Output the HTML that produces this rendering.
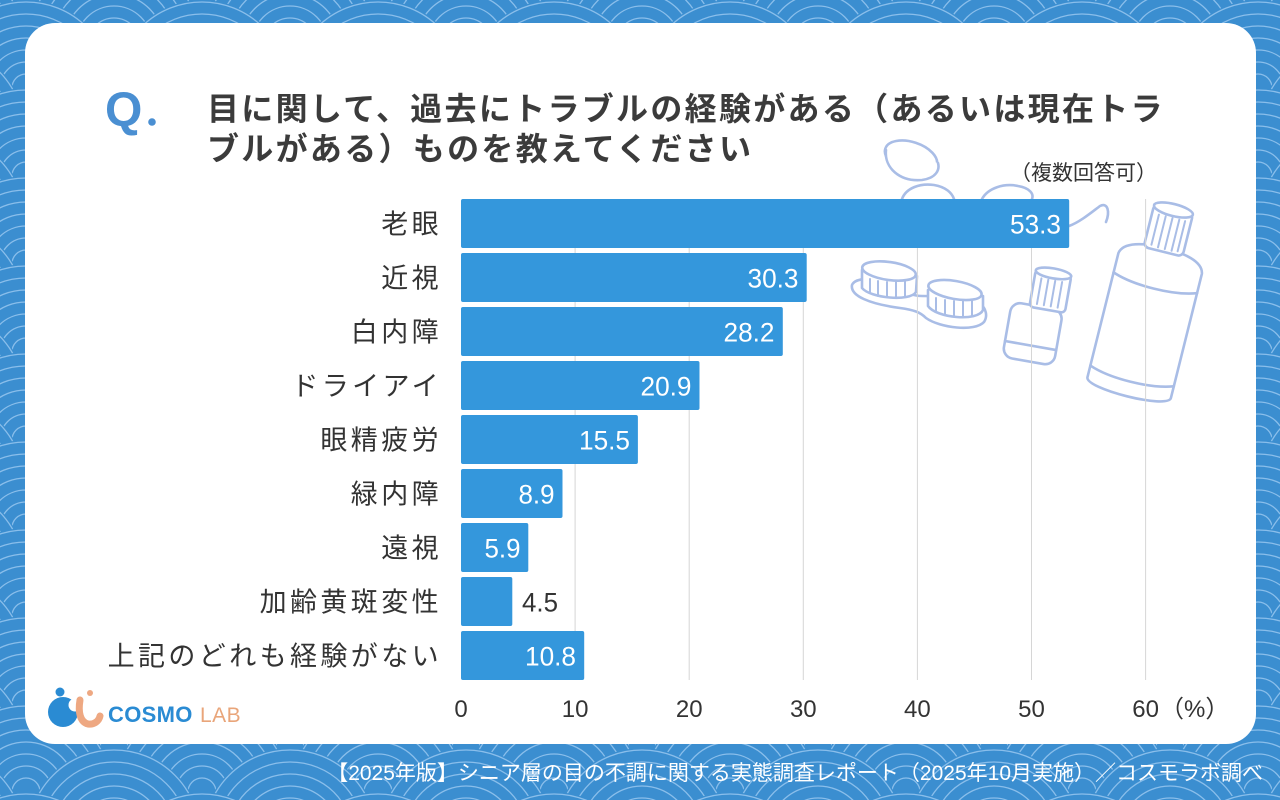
<!DOCTYPE html>
<html lang="ja">
<head>
<meta charset="utf-8">
<style>
  html,body{margin:0;padding:0;background:#3d8ed0;}
  body{width:1280px;height:800px;overflow:hidden;}
  svg{display:block;}
  .jp{font-family:"Liberation Sans","Noto Sans CJK JP",sans-serif;}
</style>
</head>
<body>
<svg width="1280" height="800" viewBox="0 0 1280 800" xmlns="http://www.w3.org/2000/svg" class="jp">
  <defs>
    <g id="c">
      <circle r="88" fill="#3b8ed0"/>
      <g fill="none" stroke="#9dcbf1" stroke-width="1.3" stroke-opacity="0.8">
        <circle r="86"/>
        <circle r="74"/>
        <circle r="62"/>
        <circle r="50"/>
        <circle r="38"/>
        <circle r="26"/>
        <circle r="14"/>
      </g>
    </g>
    <pattern id="sg" width="176" height="88" patternUnits="userSpaceOnUse" x="26" y="0">
      <rect width="176" height="88" fill="#3b8ed0"/>
      <use href="#c" x="0" y="-88"/><use href="#c" x="176" y="-88"/>
      <use href="#c" x="88" y="-44"/>
      <use href="#c" x="0" y="0"/><use href="#c" x="176" y="0"/>
      <use href="#c" x="88" y="44"/>
      <use href="#c" x="0" y="88"/><use href="#c" x="176" y="88"/>
      <use href="#c" x="88" y="132"/>
      <use href="#c" x="0" y="176"/><use href="#c" x="176" y="176"/>
    </pattern>
  </defs>

  <!-- background -->
  <rect width="1280" height="800" fill="url(#sg)"/>

  <!-- card -->
  <rect x="25" y="23" width="1231" height="721" rx="30" ry="30" fill="#ffffff"/>

  <!-- illustrations -->
  <g fill="#ffffff" stroke="#a9bde6" stroke-width="2.6" stroke-linecap="round" stroke-linejoin="round">
    <!-- top lens -->
    <ellipse cx="911" cy="157" rx="27" ry="15" transform="rotate(18 911 157)"/>
    <path d="M886 150 C884 168 900 182 922 180 C936 178 940 170 938 163"/>
    <!-- second lens partially hidden -->
    <path d="M902 199 C906 188 920 183 934 185 C946 187 952 193 954 199"/>
    <!-- third lens / hook -->
    <path d="M982 199 C988 188 1004 183 1018 186 C1030 188 1034 194 1032 199"/>
    <path d="M1069 226 C1080 222 1092 212 1100 206 C1108 202 1110 212 1106 222" fill="none"/>
    <!-- lens case base plate -->
    <path d="M852 285 C850 296 870 304 900 308 C914 310 920 312 926 318 C940 328 975 332 984 322 C988 316 986 308 980 304 C960 296 940 296 922 296 C912 296 906 292 896 286 C880 278 856 276 852 285 Z"/>
    <!-- left cylinder -->
    <path d="M862 270 L862 288 C870 298 910 302 916 292 L917 276"/>
    <ellipse cx="889" cy="271" rx="27" ry="9" transform="rotate(8 889 271)"/>
    <g fill="none" stroke-width="2">
      <path d="M870 279 L870 293"/><path d="M878 281 L878 296"/><path d="M887 282 L887 297"/><path d="M896 282 L896 297"/><path d="M905 281 L905 296"/>
    </g>
    <!-- right cylinder -->
    <path d="M928 290 L928 306 C936 318 978 322 983 310 L983 296"/>
    <ellipse cx="955" cy="290" rx="27" ry="9" transform="rotate(10 955 290)"/>
    <g fill="none" stroke-width="2">
      <path d="M936 298 L936 312"/><path d="M945 300 L945 315"/><path d="M954 301 L954 316"/><path d="M963 301 L963 316"/><path d="M972 300 L972 315"/>
    </g>
    <!-- small bottle -->
    <g transform="rotate(10 1036 315)">
      <rect x="1010" y="306" width="52" height="56" rx="10"/>
      <path d="M1010 346 L1062 346" fill="none"/>
      <rect x="1028" y="270" width="36" height="38" rx="4"/>
      <ellipse cx="1046" cy="271" rx="18" ry="5"/>
      <g fill="none" stroke-width="2">
        <path d="M1035 278 L1035 304"/><path d="M1042 278 L1042 304"/><path d="M1049 278 L1049 304"/><path d="M1056 278 L1056 304"/>
      </g>
    </g>
    <!-- big bottle -->
    <g transform="rotate(14 1150 300)">
      <path d="M1108 262 C1110 250 1130 246 1150 246 C1172 246 1192 250 1194 262 L1194 390 C1194 402 1108 402 1108 390 Z"/>
      <path d="M1108 282 C1130 290 1172 290 1194 282" fill="none"/>
      <path d="M1108 378 C1130 386 1172 386 1194 378" fill="none"/>
      <rect x="1131" y="206" width="40" height="44" rx="5"/>
      <ellipse cx="1151" cy="207" rx="20" ry="6"/>
      <g fill="none" stroke-width="2">
        <path d="M1138 215 L1138 246"/><path d="M1145 215 L1145 247"/><path d="M1152 215 L1152 247"/><path d="M1159 215 L1159 247"/><path d="M1165 215 L1165 246"/>
      </g>
    </g>
  </g>

  <!-- gridlines -->
  <g stroke="#d6d6d6" stroke-width="1">
    <line x1="575.1" y1="199" x2="575.1" y2="680"/>
    <line x1="689.2" y1="199" x2="689.2" y2="680"/>
    <line x1="803.3" y1="199" x2="803.3" y2="680"/>
    <line x1="917.4" y1="199" x2="917.4" y2="680"/>
    <line x1="1031.5" y1="199" x2="1031.5" y2="680"/>
    <line x1="1145.6" y1="199" x2="1145.6" y2="680"/>
  </g>

  <!-- bars -->
  <g fill="#3497dc">
    <rect x="461" y="199" width="608.2" height="49" rx="2"/>
    <rect x="461" y="253" width="345.7" height="49" rx="2"/>
    <rect x="461" y="307" width="321.8" height="49" rx="2"/>
    <rect x="461" y="361" width="238.5" height="49" rx="2"/>
    <rect x="461" y="415" width="176.9" height="49" rx="2"/>
    <rect x="461" y="469" width="101.5" height="49" rx="2"/>
    <rect x="461" y="523" width="67.3" height="49" rx="2"/>
    <rect x="461" y="577" width="51.3" height="49" rx="2"/>
    <rect x="461" y="631" width="123.2" height="49" rx="2"/>
  </g>

  <!-- value labels -->
  <g font-size="27" fill="#ffffff" text-anchor="end">
    <text x="1061" y="233.5" textLength="51" lengthAdjust="spacingAndGlyphs">53.3</text>
    <text x="798.5" y="287.5" textLength="51" lengthAdjust="spacingAndGlyphs">30.3</text>
    <text x="774.5" y="341.5" textLength="51" lengthAdjust="spacingAndGlyphs">28.2</text>
    <text x="691.5" y="395.5" textLength="51" lengthAdjust="spacingAndGlyphs">20.9</text>
    <text x="630" y="449.5" textLength="51" lengthAdjust="spacingAndGlyphs">15.5</text>
    <text x="554.5" y="503.5" textLength="36" lengthAdjust="spacingAndGlyphs">8.9</text>
    <text x="520.5" y="557.5" textLength="36" lengthAdjust="spacingAndGlyphs">5.9</text>
    <text x="576" y="665.5" textLength="51" lengthAdjust="spacingAndGlyphs">10.8</text>
  </g>
  <text x="522" y="611.5" font-size="27" fill="#333333" textLength="36" lengthAdjust="spacingAndGlyphs">4.5</text>

  <!-- category labels -->
  <g font-size="27" fill="#333333" text-anchor="end" letter-spacing="3.4">
    <text x="442" y="233.5">老眼</text>
    <text x="442" y="287.5">近視</text>
    <text x="442" y="341.5">白内障</text>
    <text x="442" y="395.5">ドライアイ</text>
    <text x="442" y="449.5">眼精疲労</text>
    <text x="442" y="503.5">緑内障</text>
    <text x="442" y="557.5">遠視</text>
    <text x="442" y="611.5">加齢黄斑変性</text>
    <text x="442" y="665.5">上記のどれも経験がない</text>
  </g>

  <!-- tick labels -->
  <g font-size="24" fill="#333333" text-anchor="middle">
    <text x="461" y="717">0</text>
    <text x="575.1" y="717">10</text>
    <text x="689.2" y="717">20</text>
    <text x="803.3" y="717">30</text>
    <text x="917.4" y="717">40</text>
    <text x="1031.5" y="717">50</text>
    <text x="1145.6" y="717">60</text>
  </g>
  <text x="1160" y="717" font-size="24" fill="#333333">（%）</text>

  <!-- Q. -->
  <text x="105" y="126" font-family="Liberation Sans, sans-serif" font-weight="bold" font-size="48" fill="#4a8fd2">Q</text>
  <circle cx="152" cy="122" r="3.8" fill="#4a8fd2"/>

  <!-- title -->
  <g font-size="32" font-weight="bold" fill="#3b3b3b" letter-spacing="2.3">
    <text x="207" y="120">目に関して、過去にトラブルの経験がある（あるいは現在トラ</text>
    <text x="207" y="160">ブルがある）ものを教えてください</text>
  </g>

  <!-- note -->
  <text x="1010" y="180" font-size="21" fill="#333333">（複数回答可）</text>

  <!-- logo -->
  <g>
    <circle cx="63" cy="712" r="15" fill="#2a8bd3"/>
    <circle cx="75" cy="705" r="6.5" fill="#ffffff"/>
    <circle cx="60" cy="692" r="4.5" fill="#2a8bd3"/>
    <circle cx="90" cy="693" r="3" fill="#eea882"/>
    <path d="M80 700 C78 712 80 722 88 724 C94 725 99 721 100 716" fill="none" stroke="#eea882" stroke-width="7" stroke-linecap="round"/>
    <text x="108" y="722" font-family="Liberation Sans, sans-serif" font-weight="bold" font-size="22" letter-spacing="0.3" fill="#2a8bd3">COSMO</text>
    <text x="200" y="722" font-family="Liberation Sans, sans-serif" font-size="21" letter-spacing="0.5" fill="#e9a57a">LAB</text>
  </g>

  <!-- footer -->
  <text x="1263" y="780" font-size="21" fill="#ffffff" text-anchor="end">【2025年版】シニア層の目の不調に関する実態調査レポート（2025年10月実施）／コスモラボ調べ</text>
</svg>
</body>
</html>
